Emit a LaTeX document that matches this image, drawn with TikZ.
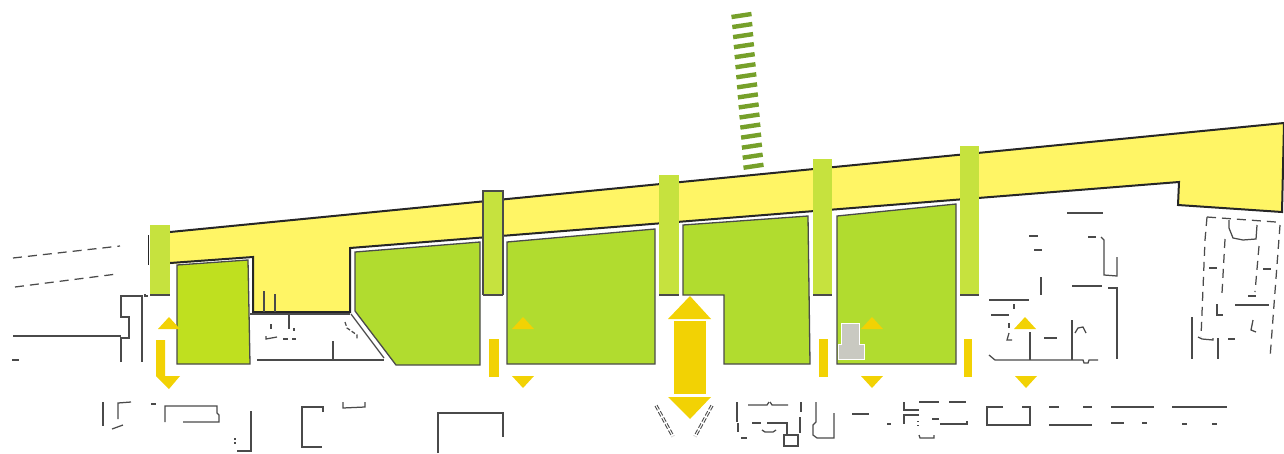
\documentclass[tikz,border=0pt]{standalone}
\usetikzlibrary{calc}
\definecolor{bandyellow}{HTML}{FFF565}
\definecolor{blockgreen}{HTML}{B1DC2F}
\definecolor{limegreen}{HTML}{BFE01F}
\definecolor{columngreen}{HTML}{C6E23E}
\definecolor{arrowyellow}{HTML}{F2D204}
\definecolor{rungolive}{HTML}{76A02A}
\definecolor{edgedark}{HTML}{262626}
\definecolor{planline}{HTML}{4A4A4A}
\definecolor{greyblock}{HTML}{C9C9C1}
\tikzset{
  bandedge/.style={edgedark, line width=2pt, line join=miter},
  block/.style={fill=blockgreen, draw=planline, line width=1.3pt},
  column/.style={fill=columngreen},
  columnfoot/.style={planline, line width=1.3pt},
  flowarrow/.style={fill=arrowyellow},
  rung/.style={rungolive, line width=4.4pt},
  plan/.style={planline, line width=1.25pt},
  dashplan/.style={plan, dash pattern=on 9pt off 6pt}
}
\begin{document}
\begin{tikzpicture}[x=1pt, y=-1pt]
  \useasboundingbox (0,0) rectangle (1284,453);

  % walkway band
  \fill[bandyellow] (150,234) -- (1284,123) -- (1282,212) -- (1178,205) -- (1179,182)
    -- (350,248) -- (350,312) -- (253,312) -- (253,257) -- (150,266) -- cycle;
  \draw[bandedge] (170,232) -- (1284,123) -- (1282,212) -- (1178,205) -- (1179,182)
    -- (350,248) -- (350,312) -- (253,312) -- (253,257) -- (170,263);
  \draw[edgedark, line width=1.5pt] (148.5,235) -- (148.5,265);

  % blocks
  \draw[block, fill=limegreen] (177,265) -- (248,260) -- (250,364) -- (177,364) -- cycle;
  \draw[block] (355,252) -- (480,242) -- (480,365) -- (396,365) -- (355,311) -- cycle;
  \draw[block] (507,242) -- (655,229) -- (655,364) -- (507,364) -- cycle;
  \draw[block] (683,225) -- (808,216) -- (810,364) -- (724,364) -- (724,295) -- (683,295) -- cycle;
  \draw[block] (837,216) -- (956,204) -- (956,364) -- (837,364) -- cycle;
  \draw[white, line width=1pt, fill=greyblock] (841,323) -- (859,323) -- (859,344) -- (864,344)
    -- (864,359) -- (838,359) -- (838,344) -- (841,344) -- cycle;

  % columns
  \foreach \xa/\xb/\ytop in {150/170/225, 483/503/191, 659/679/175, 813/832/159, 960/979/146} {
    \fill[column] (\xa,\ytop) rectangle (\xb,295);
    \draw[columnfoot] (\xa,295) -- (\xb,295);
  }
  \draw[columnfoot] (483,295) -- (483,191) -- (503,191) -- (503,295);

  % rungs
  \foreach \n in {0,...,15} {
    \draw[rung] ({731.5+0.8*\n},{17+10.05*\n}) -- ({751.5+0.8*\n},{14+10.05*\n});
  }

  % flow arrows
  \foreach \xm in {169,523,872,1025} {
    \fill[flowarrow] (\xm,317) -- (\xm+11,329) -- (\xm-11,329) -- cycle;
  }
  \foreach \xm in {523,872,1026} {
    \fill[flowarrow] (\xm-11,376) -- (\xm+11,376) -- (\xm,388) -- cycle;
  }
  \foreach \xa/\xb in {489/499, 819/828, 964/972} {
    \fill[flowarrow] (\xa,339) rectangle (\xb,377);
  }
  \fill[flowarrow] (156,340) -- (165,340) -- (165,376) -- (180,376) -- (169,389) -- (156,376) -- cycle;
  \fill[flowarrow] (690,296) -- (711,319) -- (668,319) -- cycle;
  \fill[flowarrow] (674,321) rectangle (706,394);
  \fill[flowarrow] (668,397) -- (711,397) -- (690,419) -- cycle;

  % plan left
  \draw[dashplan] (13,258) -- (120,246);
  \draw[dashplan] (15,287) -- (117,274);
  \draw[plan] (13,336) -- (121,336);
  \draw[plan] (121,362) -- (121,338) -- (129,338) -- (129,317) -- (121,317) -- (121,296) -- (142,296) -- (142,362);
  \draw[plan] (12,360) -- (19,360);
  \draw[plan] (145,294) -- (145,296) -- (148,296);
  \draw[plan] (264,291) -- (264,312);
  \draw[plan] (275,294) -- (275,312);
  \draw[plan] (250,314) -- (350,314);
  \draw[plan] (289,313) -- (289,329);
  \draw[plan] (271,324) -- (271,329);
  \draw[plan] (266,336) -- (266,339) -- (277,337);
  \draw[plan] (283,339) -- (288,339);
  \draw[plan] (292,339) -- (296,339);
  \draw[plan] (294,328) -- (294,331);
  \draw[plan] (257,360) -- (384,360);
  \draw[plan] (333,341) -- (333,360);
  \draw[plan] (351,314) -- (384,358);
  \draw[plan, dash pattern=on 4pt off 2pt] (345,322) -- (347,328) -- (357,335) -- (357,340);

  % plan bottom
  \draw[plan] (103,402) -- (103,426);
  \draw[plan] (131,402) -- (118,403) -- (118,419);
  \draw[plan] (112,429) -- (123,425);
  \draw[plan] (151,404) -- (156,404);
  \draw[plan] (165,422) -- (165,406) -- (217,406) -- (217,413) -- (219,415) -- (219,422) -- (183,422);
  \draw[plan] (251,411) -- (251,451) -- (237,451);
  \draw[plan] (235,438) -- (235,439.5);
  \draw[plan] (235,442) -- (235,443.5);
  \draw[plan] (323,412) -- (323,407) -- (302,407) -- (302,447) -- (322,447);
  \draw[plan] (343,402) -- (343,408) -- (365,407) -- (365,402);
  \draw[plan] (438,453) -- (438,413) -- (503,413) -- (503,437);
  \draw[dashplan, dash pattern=on 5pt off 2pt, line width=0.9pt] (655,406) -- (672,437);
  \draw[dashplan, dash pattern=on 5pt off 2pt, line width=0.9pt] (657,405) -- (674,436);
  \draw[dashplan, dash pattern=on 5pt off 2pt, line width=0.9pt] (713,406) -- (696,437);
  \draw[dashplan, dash pattern=on 5pt off 2pt, line width=0.9pt] (711,405) -- (694,436);
  \draw[plan] (737,402) -- (737,422);
  \draw[plan] (738,423) -- (738,432);
  \draw[plan] (741,438) -- (747,438);
  \draw[plan] (748,405) -- (767,405) -- (769,402);
  \draw[plan] (770,402) -- (772,405) -- (788,405);
  \draw[plan] (752,423) -- (761,423);
  \draw[plan] (762,430) -- (765,432) -- (773,432) -- (776,430);
  \draw[plan] (767,423) -- (787,423) -- (787,435);
  \draw[plan] (784,435) -- (798,435) -- (798,446) -- (784,446) -- cycle;
  \draw[plan] (801,402) -- (801,412);
  \draw[plan] (800,417) -- (800,433);
  \draw[plan] (816,402) -- (816,422) -- (813,425) -- (813,435) -- (817,438) -- (834,438) -- (834,413);
  \draw[plan] (852,414) -- (869,414);
  \draw[plan] (887,424) -- (891,424);
  \draw[plan] (919,402) -- (939,402);
  \draw[plan] (949,402) -- (966,402);
  \draw[plan] (904,402) -- (904,410) -- (919,410);
  \draw[plan] (919,415) -- (904,415) -- (904,424);
  \draw[plan] (932,419) -- (939,419);
  \draw[plan] (940,424) -- (967,424) -- (967,421);
  \draw[plan] (918,421) -- (918,422);
  \draw[plan] (918,425) -- (918,426);
  \draw[plan] (919,435) -- (920,438) -- (934,438) -- (934,435);
  \draw[plan] (1003,407) -- (987,407) -- (987,425) -- (1030,425) -- (1030,407) -- (1022,407);
  \draw[plan] (1049,407) -- (1059,407);
  \draw[plan] (1083,407) -- (1092,407);
  \draw[plan] (1049,425) -- (1092,425);
  \draw[plan] (1111,407) -- (1154,407);
  \draw[plan] (1111,423) -- (1124,423);
  \draw[plan] (1142,423) -- (1147,423);
  \draw[plan] (1172,407) -- (1227,407);
  \draw[plan] (1182,424) -- (1187,424);
  \draw[plan] (1212,424) -- (1217,424);

  % plan right
  \draw[plan] (1067,213) -- (1103,213);
  \draw[plan] (1029,236) -- (1038,236);
  \draw[plan] (1034,250) -- (1042,250);
  \draw[plan] (1088,237) -- (1096,237);
  \draw[plan] (1101,237) -- (1104,240) -- (1104,275) -- (1117,276) -- (1117,257);
  \draw[plan] (1041,277) -- (1041,295);
  \draw[plan] (1072,286) -- (1102,286);
  \draw[plan] (1108,288) -- (1117,288) -- (1117,359);
  \draw[plan] (989,300) -- (1029,300);
  \draw[plan] (1014,304) -- (1014,309);
  \draw[plan] (991,315) -- (1009,315);
  \draw[plan] (1009,323) -- (1009,328);
  \draw[plan] (1009,333) -- (1007,340) -- (1012,340);
  \draw[plan] (989,355) -- (995,360) -- (1083,360) -- (1084,363) -- (1088,363) -- (1089,360) -- (1098,360);
  \draw[plan] (1030,332) -- (1030,360);
  \draw[plan] (1072,320) -- (1072,360);
  \draw[plan] (1044,338) -- (1057,338);
  \draw[plan] (1075,333) -- (1078,328) -- (1083,327) -- (1086,333);

  % dashed house
  \draw[dashplan] (1207,217) -- (1276,222);
  \draw[dashplan] (1280,225) -- (1270,358);
  \draw[dashplan] (1207,217) -- (1205,240) -- (1201,337);
  \draw[plan] (1229,220) -- (1229,228) -- (1233,238) -- (1243,240) -- (1256,239) -- (1257,225);
  \draw[dashplan] (1225,239) -- (1222,293);
  \draw[dashplan] (1259,246) -- (1255,292);
  \draw[plan] (1209,268) -- (1217,268);
  \draw[plan] (1263,269) -- (1271,269);
  \draw[plan] (1217,304) -- (1217,315) -- (1223,315);
  \draw[plan] (1235,305) -- (1269,305);
  \draw[plan] (1248,296) -- (1256,296);
  \draw[plan] (1192,317) -- (1192,359);
  \draw[plan] (1218,338) -- (1218,359);
  \draw[plan] (1198,337) -- (1202,339) -- (1213,340) -- (1213,338);
  \draw[plan] (1228,339) -- (1235,339);
  \draw[plan] (1253,320) -- (1251,330) -- (1256,332);
\end{tikzpicture}
\end{document}
